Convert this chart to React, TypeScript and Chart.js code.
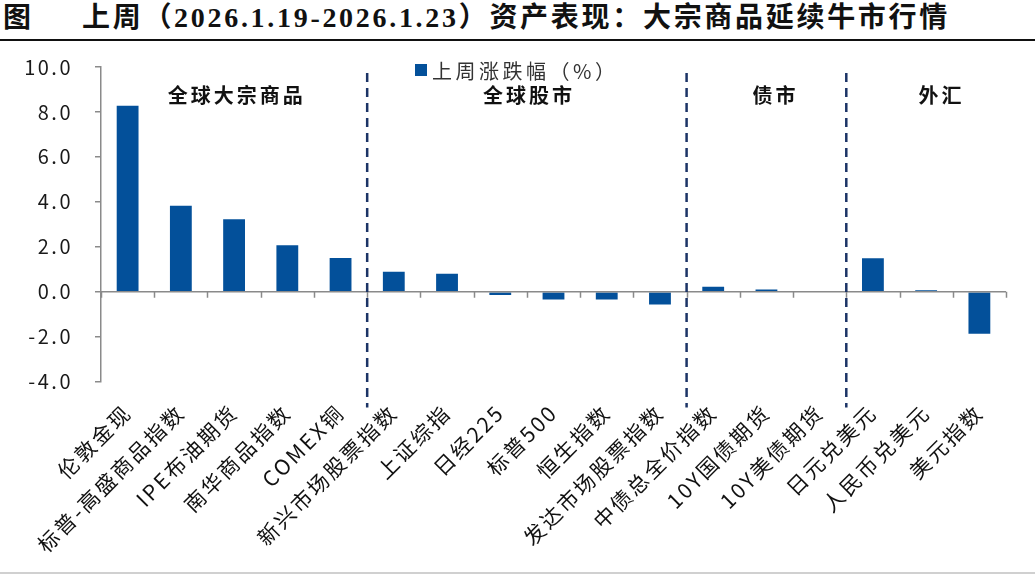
import React, { useEffect, useRef } from "react";
import { Chart, registerables } from "chart.js";

Chart.register(...registerables);

const titleTag = "图";
const titleText = "上周（2026.1.19-2026.1.23）资产表现：大宗商品延续牛市行情";

const categories = [
  "伦敦金现",
  "标普-高盛商品指数",
  "IPE布油期货",
  "南华商品指数",
  "COMEX铜",
  "新兴市场股票指数",
  "上证综指",
  "日经225",
  "标普500",
  "恒生指数",
  "发达市场股票指数",
  "中债总全价指数",
  "10Y国债期货",
  "10Y美债期货",
  "日元兑美元",
  "人民币兑美元",
  "美元指数",
];

const weeklyChange = [
  8.27, 3.82, 3.22, 2.07, 1.5, 0.89, 0.8, -0.15, -0.35, -0.35, -0.57, 0.22, 0.1, 0.01, 1.49, 0.06, -1.87,
];

const seriesName = "上周涨跌幅（%）";

const yMin = -4;
const yMax = 10;
const yStep = 2;

const sectionNames = ["全球大宗商品", "全球股市", "债市", "外汇"];
const sectionCenters = [2.02, 7.51, 12.14, 15.26];
const sectionLabelValue = 8.75;
const sectionBoundaries = [4.5, 10.5, 13.5];

const BAR_COLOR = "#03509A";
const AXIS_COLOR = "#8a8a8a";
const DASH_COLOR = "#1C3466";

const spacingPlugin = {
  id: "tickSpacing",
  beforeDraw(chart: any) {
    (chart.ctx as any).letterSpacing = "2.5px";
  },
  afterDraw(chart: any) {
    (chart.ctx as any).letterSpacing = "0px";
  },
};

const overlayPlugin = {
  id: "overlay",
  afterDatasetsDraw(chart: any) {
    const { ctx, chartArea, scales } = chart;
    const x = scales.x;
    const y = scales.y;
    ctx.save();
    (ctx as any).letterSpacing = "0px";

    // zero line with category tick marks
    const y0 = y.getPixelForValue(0);
    ctx.strokeStyle = AXIS_COLOR;
    ctx.lineWidth = 1.5;
    ctx.beginPath();
    ctx.moveTo(chartArea.left, y0);
    ctx.lineTo(chartArea.right, y0);
    for (let i = 0; i <= categories.length; i++) {
      const px = Math.round(x.getPixelForValue(i - 0.5)) + 0.5;
      ctx.moveTo(px, y0);
      ctx.lineTo(px, y0 + 6);
    }
    ctx.stroke();

    // dashed separators
    ctx.strokeStyle = DASH_COLOR;
    ctx.lineWidth = 2.5;
    ctx.setLineDash([9, 6]);
    for (const b of sectionBoundaries) {
      const px = x.getPixelForValue(b);
      ctx.beginPath();
      ctx.moveTo(px, chartArea.top + 6);
      ctx.lineTo(px, chartArea.bottom + 26);
      ctx.stroke();
    }
    ctx.setLineDash([]);

    // section labels
    ctx.fillStyle = "#111";
    ctx.font = 'bold 20px "Noto Sans CJK SC", sans-serif';
    (ctx as any).letterSpacing = "3px";
    ctx.textAlign = "center";
    ctx.textBaseline = "middle";
    sectionNames.forEach((name, i) => {
      const px = x.getPixelForValue(sectionCenters[i]);
      const py = y.getPixelForValue(sectionLabelValue);
      ctx.fillText(name, px + 1.5, py);
    });

    // legend
    const lx = chartArea.left + 314;
    const ly = chartArea.top + 3;
    ctx.fillStyle = BAR_COLOR;
    ctx.fillRect(lx, ly - 6, 12, 12);
    ctx.fillStyle = "#333";
    ctx.font = '20px "Noto Sans CJK SC", sans-serif';
    (ctx as any).letterSpacing = "3.5px";
    ctx.textAlign = "left";
    ctx.textBaseline = "middle";
    ctx.fillText(seriesName, lx + 17, ly + 1);

    ctx.restore();
  },
};

export default function App() {
  const canvasRef = useRef<HTMLCanvasElement | null>(null);

  useEffect(() => {
    if (!canvasRef.current) return;
    const chart = new Chart(canvasRef.current, {
      type: "bar",
      data: {
        labels: categories,
        datasets: [
          {
            label: seriesName,
            data: weeklyChange,
            backgroundColor: BAR_COLOR,
            borderWidth: 0,
            categoryPercentage: 1,
            barPercentage: 0.41,
          },
        ],
      },
      options: {
        animation: false,
        responsive: false,
        maintainAspectRatio: false,
        devicePixelRatio: 1,
        layout: { padding: { top: 21, right: 29, bottom: 0, left: 0 } },
        plugins: {
          legend: { display: false },
          tooltip: { enabled: false },
        },
        scales: {
          x: {
            grid: { display: false },
            border: { display: false },
            ticks: {
              autoSkip: false,
              maxRotation: 45,
              minRotation: 45,
              padding: 10,
              color: "#111",
              font: { size: 21, family: '"Liberation Sans Narrow", "Noto Sans CJK SC", sans-serif' },
            },
            afterFit: (scale: any) => {
              scale.height = 189.5;
            },
          },
          y: {
            min: yMin,
            max: yMax,
            grid: {
              drawOnChartArea: false,
              drawTicks: true,
              tickLength: 6,
              color: AXIS_COLOR,
              lineWidth: 1.5,
            },
            border: { display: true, color: AXIS_COLOR, width: 1.5 },
            ticks: {
              stepSize: yStep,
              padding: 22,
              color: "#1a1a1a",
              font: { size: 20, family: '"Noto Sans CJK SC", sans-serif' },
              callback: (v: any) => Number(v).toFixed(1),
            },
            afterFit: (scale: any) => {
              scale.width = 101;
              scale.paddingTop = 0;
              scale.paddingBottom = 0;
            },
          },
        },
      },
      plugins: [spacingPlugin, overlayPlugin],
    });
    return () => chart.destroy();
  }, []);

  return (
    <div
      style={{
        position: "fixed",
        left: 0,
        top: 0,
        width: 1035,
        height: 575,
        background: "#fff",
        overflow: "hidden",
      }}
    >
      <div
        style={{
          position: "absolute",
          left: 0,
          top: 0,
          width: 1035,
          height: 39,
          borderBottom: "2.5px solid #111",
          fontFamily: '"Liberation Serif", "Noto Sans CJK SC", serif',
          fontWeight: 700,
          fontSize: 28,
          lineHeight: "28px",
          color: "#111",
          whiteSpace: "nowrap",
        }}
      >
        <span style={{ position: "absolute", left: 3, top: 4 }}>{titleTag}</span>
        <span style={{ position: "absolute", left: 82, top: 4, letterSpacing: 2.7 }}>{titleText}</span>
      </div>
      <canvas
        ref={canvasRef}
        width={1035}
        height={525}
        style={{ position: "absolute", left: 0, top: 46, width: 1035, height: 525 }}
      />
      <div
        style={{
          position: "absolute",
          left: 0,
          top: 572,
          width: 1035,
          height: 2,
          background: "#d0d0d0",
        }}
      />
    </div>
  );
}
